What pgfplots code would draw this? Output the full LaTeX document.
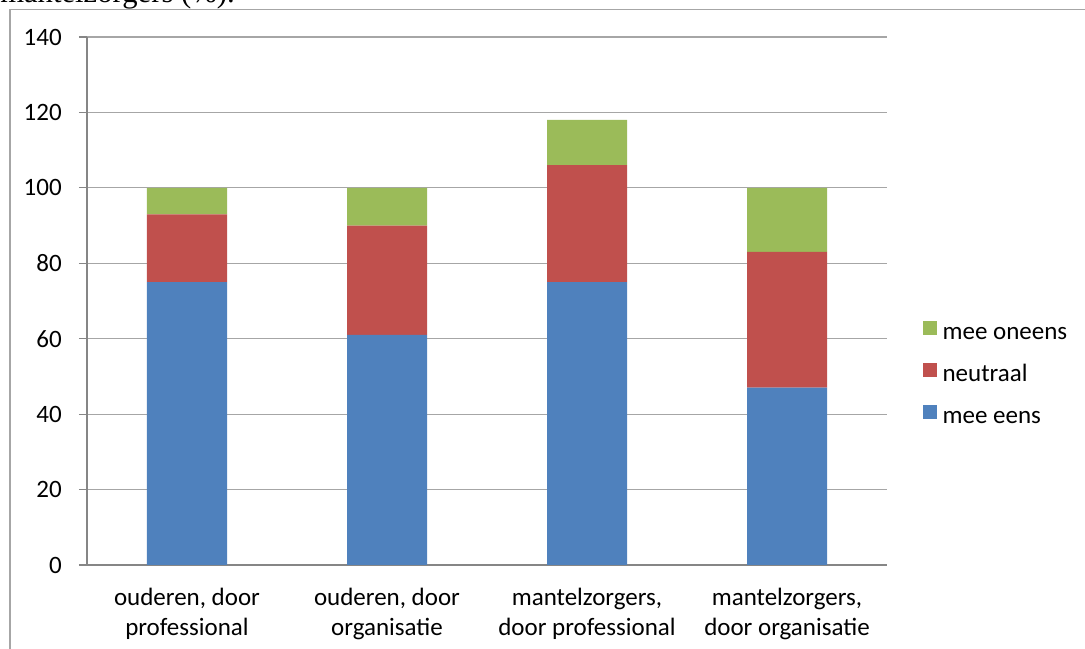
\documentclass[border=0pt]{standalone}
\usepackage{fontspec}
\setmainfont{Carlito}
\newfontfamily\titlefont{Liberation Serif}
\usepackage{pgfplots}
\pgfplotsset{compat=1.18}

\definecolor{blauw}{HTML}{4F81BD}
\definecolor{rood}{HTML}{C0504D}
\definecolor{groen}{HTML}{9BBB59}
\definecolor{asgrijs}{HTML}{868686}
\definecolor{rastergrijs}{HTML}{A6A6A6}

\begin{document}
\begin{tikzpicture}
% 1 px of the reference = 0.75pt; plot box starts at px (87,565)
\useasboundingbox (-65.25pt,-63pt) rectangle (748.5pt,423.75pt);
\draw[rastergrijs, line width=0.9pt] (-57.75pt,-80pt) -- (-57.75pt,416.6pt) -- (760pt,416.6pt);
\node[anchor=base west, inner sep=0pt, font=\titlefont\fontsize{23}{26}\selectfont]
  at (-65.25pt,421.9pt) {mantelzorgers (\%).};
\begin{axis}[
    at={(0,0)}, anchor=south west,
    scale only axis,
    width=600pt, height=396pt,
    ybar stacked,
    bar width=60pt,
    xmin=0.5, xmax=4.5,
    ymin=0, ymax=140,
    enlargelimits=false,
    axis lines*=left,
    axis line style={asgrijs, line width=0.9pt},
    ytick={0,20,...,140},
    xtick={1,2,3,4},
    xticklabels={{ouderen, door\\professional},{ouderen, door\\organisatie},{mantelzorgers,\\door professional},{mantelzorgers,\\door organisatie}},
    x tick style={draw=none},
    extra x ticks={0.5,1.5,2.5,3.5,4.5},
    extra x tick labels={},
    extra x tick style={grid=none, major tick length=6pt, tick align=outside, tick style={asgrijs, line width=0.9pt}},
    y tick style={asgrijs, line width=0.9pt},
    major tick length=6pt,
    tick align=outside,
    ymajorgrids,
    grid style={rastergrijs, line width=0.9pt},
    /pgf/number format/assume math mode=true,
    ticklabel style={font=\fontsize{18.75}{22.5}\selectfont},
    xticklabel style={align=center, anchor=north, inner sep=0pt, yshift=-11.5pt},
    yticklabel style={anchor=east, inner sep=0pt, xshift=-12.75pt},
    reverse legend,
    legend style={
        at={(1.045,0.4627)}, anchor=north west,
        draw=none, fill=none, inner sep=0pt,
        row sep=13.4pt, column sep=4pt,
        cells={anchor=west},
        nodes={inner sep=0pt, text height=13pt, text depth=4pt},
        font=\fontsize{18.75}{22}\selectfont,
    },
    legend image code/.code={\fill[#1] (0pt,-1pt) rectangle (10.5pt,9.5pt);},
]
\addplot[fill=blauw, draw=none] coordinates {(1,75) (2,61) (3,75) (4,47)};
\addlegendentry{mee eens}
\addplot[fill=rood, draw=none] coordinates {(1,18) (2,29) (3,31) (4,36)};
\addlegendentry{neutraal}
\addplot[fill=groen, draw=none] coordinates {(1,7) (2,10) (3,12) (4,17)};
\addlegendentry{mee oneens}
\end{axis}
\end{tikzpicture}
\end{document}
